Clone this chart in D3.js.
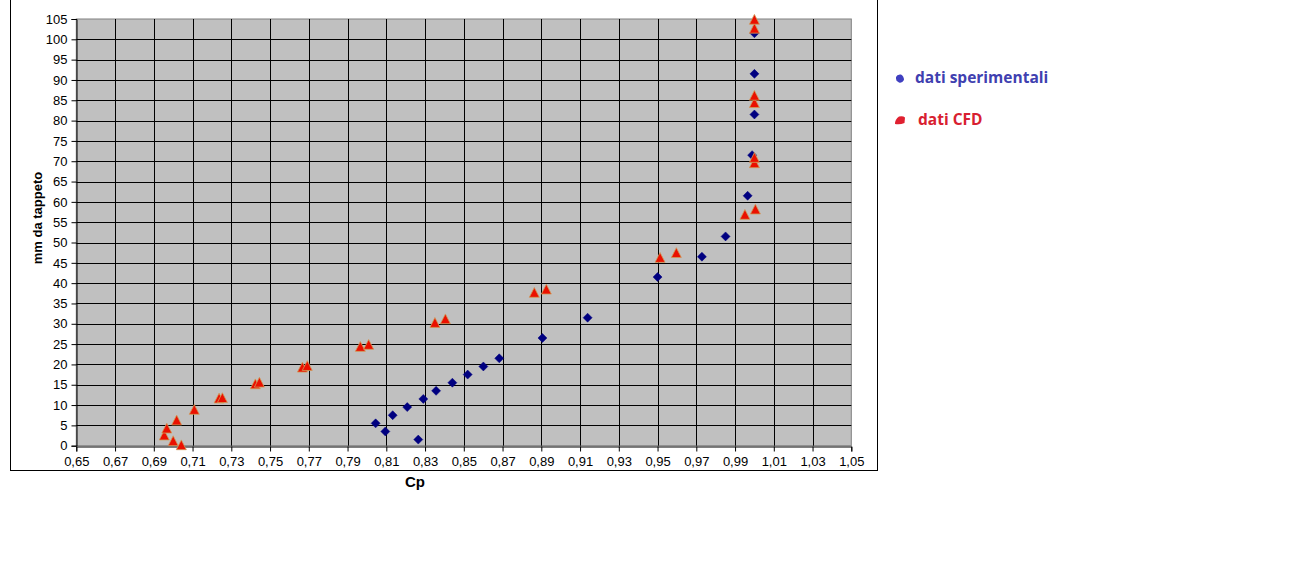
<!DOCTYPE html>
<html><head><meta charset="utf-8">
<script src="https://cdn.jsdelivr.net/npm/d3@7"></script>
<style>body{margin:0;background:#fff}svg{display:block}</style>
</head><body>
<svg id="c" width="1290" height="566"></svg>
<script>
const xTicks = d3.range(0, 21).map(i => +(0.65 + i * 0.02).toFixed(2));
const yTicks = d3.range(0, 22).map(i => i * 5);
const expX = [0.8045, 0.8095, 0.8133, 0.8208, 0.8291, 0.8265, 0.8357, 0.8441, 0.8520, 0.8601, 0.8683, 0.8906, 0.9139, 0.9500, 0.9729, 0.9851, 0.9965, 0.9988, 1.0, 1.0, 1.0];
const expY = [5.5, 3.5, 7.5, 9.5, 11.5, 1.5, 13.5, 15.5, 17.5, 19.5, 21.5, 26.5, 31.5, 41.5, 46.5, 51.5, 61.5, 71.5, 81.5, 91.5, 101.5];
const cfdX = [0.6954, 0.6967, 0.7000, 0.7042, 0.7018, 0.7109, 0.7237, 0.7254, 0.7424, 0.7445, 0.7667, 0.7692, 0.7966, 0.8009, 0.8351, 0.8405, 0.8864, 0.8926, 0.9513, 0.9597, 0.9951, 1.0005, 1.0, 1.0, 1.0, 1.0, 1.0, 1.0];
const cfdY = [2.4, 4.1, 1.0, 0, 6.1, 8.7, 11.5, 11.6, 15.0, 15.4, 19.1, 19.5, 24.2, 24.7, 30.1, 31.0, 37.5, 38.3, 46.1, 47.3, 56.7, 58.0, 69.4, 70.7, 84.2, 86.0, 102.5, 104.7];
const seriesNames = ["dati sperimentali", "dati CFD"];

const svg = d3.select("#c");
const L = 76.3, R = 851.3, T = 19, B = 445.7;
const x = d3.scaleLinear().domain([0.65, 1.05]).range([L, R]);
const y = d3.scaleLinear().domain([0, 105]).range([B, T]);
const fmt = v => d3.format(".2f")(v).replace(".", ",");

// outer frame
svg.append("rect").attr("x", 10.5).attr("y", -1).attr("width", 867).attr("height", 471.5)
  .attr("fill", "#fff").attr("stroke", "#000").attr("stroke-width", 1);

// plot area
svg.append("rect").attr("x", L).attr("y", T).attr("width", R - L).attr("height", B - T)
  .attr("fill", "#c0c0c0").attr("stroke", "#808080").attr("stroke-width", 1);

// gridlines
svg.append("g").selectAll("line").data(yTicks.filter(v => v > 0 && v < 105)).join("line")
  .attr("x1", L).attr("x2", R).attr("y1", d => Math.round(y(d)) + 0.5).attr("y2", d => Math.round(y(d)) + 0.5)
  .attr("stroke", "#000").attr("stroke-width", 1);
svg.append("g").selectAll("line").data(xTicks.filter(v => v > 0.651 && v < 1.049)).join("line")
  .attr("y1", T).attr("y2", B).attr("x1", d => Math.round(x(d)) + 0.5).attr("x2", d => Math.round(x(d)) + 0.5)
  .attr("stroke", "#000").attr("stroke-width", 1);

// axes
const yAxis = svg.append("g").attr("transform", `translate(${Math.round(L) + 0.5},0)`)
  .call(d3.axisLeft(y).tickValues(yTicks).tickSize(5).tickPadding(4).tickFormat(d => d));
const xAxis = svg.append("g").attr("transform", `translate(0,${Math.round(B) + 0.5})`)
  .call(d3.axisBottom(x).tickValues(xTicks).tickSize(5).tickPadding(5).tickFormat(fmt));
[yAxis, xAxis].forEach(a => {
  a.select(".domain").attr("stroke", "#000");
  a.selectAll(".tick line").attr("stroke", "#000");
  a.selectAll("text").attr("font-family", "Liberation Sans, Arial, sans-serif").attr("font-size", 13).attr("fill", "#000");
});

// axis titles
svg.append("text").attr("transform", "translate(42,218) rotate(-90)").attr("text-anchor", "middle")
  .attr("font-family", "Liberation Sans, Arial, sans-serif").attr("font-weight", "bold").attr("font-size", 13)
  .text("mm da tappeto");
svg.append("text").attr("x", 415).attr("y", 487).attr("text-anchor", "middle")
  .attr("font-family", "Liberation Sans, Arial, sans-serif").attr("font-weight", "bold").attr("font-size", 15)
  .text("Cp");

// markers
const diamond = "M0,-4.5L4.5,0L0,4.5L-4.5,0Z";
const tri = "M0,-5.8L5,4L-5,4Z";
const expData = expX.map((v, i) => [v, expY[i]]);
const cfdData = cfdX.map((v, i) => [v, cfdY[i]]);
svg.append("g").selectAll("path").data(expData).join("path")
  .attr("d", diamond).attr("transform", d => `translate(${x(d[0])},${y(d[1])})`)
  .attr("fill", "#000080").attr("stroke", "#000080").attr("stroke-width", 0.5);
svg.append("g").selectAll("path").data(cfdData).join("path")
  .attr("d", tri).attr("transform", d => `translate(${x(d[0])},${y(d[1])})`)
  .attr("fill", "#ea1000").attr("stroke", "#d09a58").attr("stroke-width", 0.8);

// legend
const lg = svg.append("g");
lg.append("path").attr("d", "M896,77 Q897,74 901,74.5 Q904,76 904,80 Q902,83.5 899,82.5 Q895.5,81 896,77Z").attr("fill", "#4040c0");
lg.append("path").attr("d", "M895,124 Q895,119 899,116.5 Q903,115.5 905,117.5 L904.5,123 Q900,125 895,124Z").attr("fill", "#e02030");
lg.append("text").attr("x", 915).attr("y", 83).attr("font-family", "Open Sans, sans-serif")
  .attr("font-weight", "bold").attr("font-size", 15.5).attr("fill", "#4040b0").text(seriesNames[0]);
lg.append("text").attr("x", 918).attr("y", 125).attr("font-family", "Open Sans, sans-serif")
  .attr("font-weight", "bold").attr("font-size", 15.5).attr("fill", "#d82030").text(seriesNames[1]);
</script>
</body></html>
